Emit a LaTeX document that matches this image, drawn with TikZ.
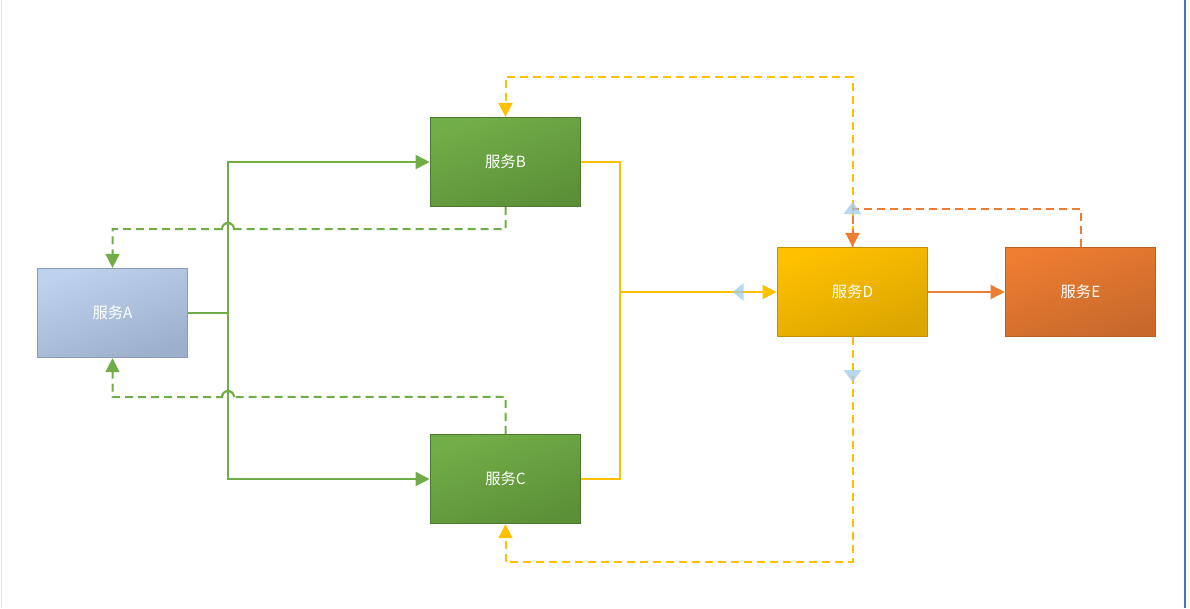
\documentclass[tikz,border=0pt]{standalone}
\usepackage{fontspec}
\newfontfamily\cjk{Noto Sans CJK SC}
\usepackage{xcolor}
\usetikzlibrary{arrows.meta}
\definecolor{gtop}{HTML}{72AE48}
\definecolor{gbot}{HTML}{5C9038}
\definecolor{gline}{HTML}{70AD47}
\definecolor{yline}{HTML}{FFC000}
\definecolor{oline}{HTML}{ED7D31}
\definecolor{hint}{HTML}{9DCCE8}

\begin{document}
\begin{tikzpicture}[x=0.75pt,y=-0.75pt,
    svc/.style={shape=rectangle,minimum width=113pt,minimum height=67pt,inner sep=0pt,line width=0.75pt,
        text=white,font=\cjk\fontsize{11.5}{13}\selectfont},
    greenbox/.style={svc,draw=gbot!85!black,top color=gtop,bottom color=gbot,shading angle=20},
    tip/.style={-{Triangle[length=10.5pt,width=10.5pt]}},
    conn/.style={line width=1.5pt},
    dashline/.style={conn,dash pattern=on 6pt off 3.75pt},
    hop/.style={conn,gline}]
    \useasboundingbox (0,0) rectangle (1190,608);
    \fill[white!97!gray] (1184,0) rectangle (1190,608);
    \draw[color=gray!25,line width=0.75pt] (1,0) -- (1,608);
    \draw[color={rgb,255:red,68;green,114;blue,196},line width=1.2pt] (1185,0) -- (1185,608);

    \node[svc,draw={rgb,255:red,138;green,156;blue,184},top color={rgb,255:red,190;green,210;blue,238},bottom color={rgb,255:red,156;green,175;blue,203},shading angle=20] (A) at (112.5,313) {服务A};
    \node[greenbox] (B) at (505.5,162) {服务B};
    \node[greenbox] (C) at (505.5,479) {服务C};
    \node[svc,draw={rgb,255:red,191;green,144;blue,0},top color=yline,bottom color={rgb,255:red,219;green,166;blue,0},shading angle=20] (D) at (852.5,292) {服务D};
    \node[svc,draw={rgb,255:red,184;green,95;blue,34},top color=oline,bottom color={rgb,255:red,200;green,105;blue,43},shading angle=20] (E) at (1080.5,292) {服务E};

    % green calls
    \draw[conn,gline] (A.east) -- ++(40,0) coordinate (split);
    \draw[conn,gline,tip] (split) |- (B.west);
    \draw[conn,gline,tip] (split) |- (C.west);
    \draw[dashline,gline,tip] (B.south) -- ++(0,22) -- (234,229) arc[start angle=0,end angle=-180,radius=6] -- (A.north |- 0,229) -- (A.north);
    \draw[dashline,gline,tip] (C.north) -- ++(0,-37) -- (234,397) arc[start angle=0,end angle=-180,radius=6] -- (A.south |- 0,397) -- (A.south);
    \draw[hop] (234,229) arc[start angle=0,end angle=-180,radius=6];
    \draw[hop] (234,397) arc[start angle=0,end angle=-180,radius=6];

    % yellow
    \draw[conn,yline] (B.east) -- ++(39,0) coordinate (join) |- (C.east);
    \draw[conn,yline,tip] (join |- D.west) -- (D.west);
    \draw[dashline,yline,tip] (D.north) -- (D.north |- 0,77) -| (B.north);
    \draw[dashline,yline,tip] (D.south) -- (D.south |- 0,562) -| (C.south);

    % orange
    \draw[conn,oline,tip] (D.east) -- (E.west);
    \draw[dashline,oline,tip] (E.north) -- ++(0,-38) -| (D.north);

    % hints
    \fill[hint,opacity=0.75] ([xshift=-33pt]D.west) -- ++(11,-9) -- ++(0,18) -- cycle;
    \fill[hint,opacity=0.75] (D.north |- 0,202) -- ++(9,12) -- ++(-18,0) -- cycle;
    \fill[hint,opacity=0.75] (D.south |- 0,382) -- ++(9,-12) -- ++(-18,0) -- cycle;
\end{tikzpicture}
\end{document}
